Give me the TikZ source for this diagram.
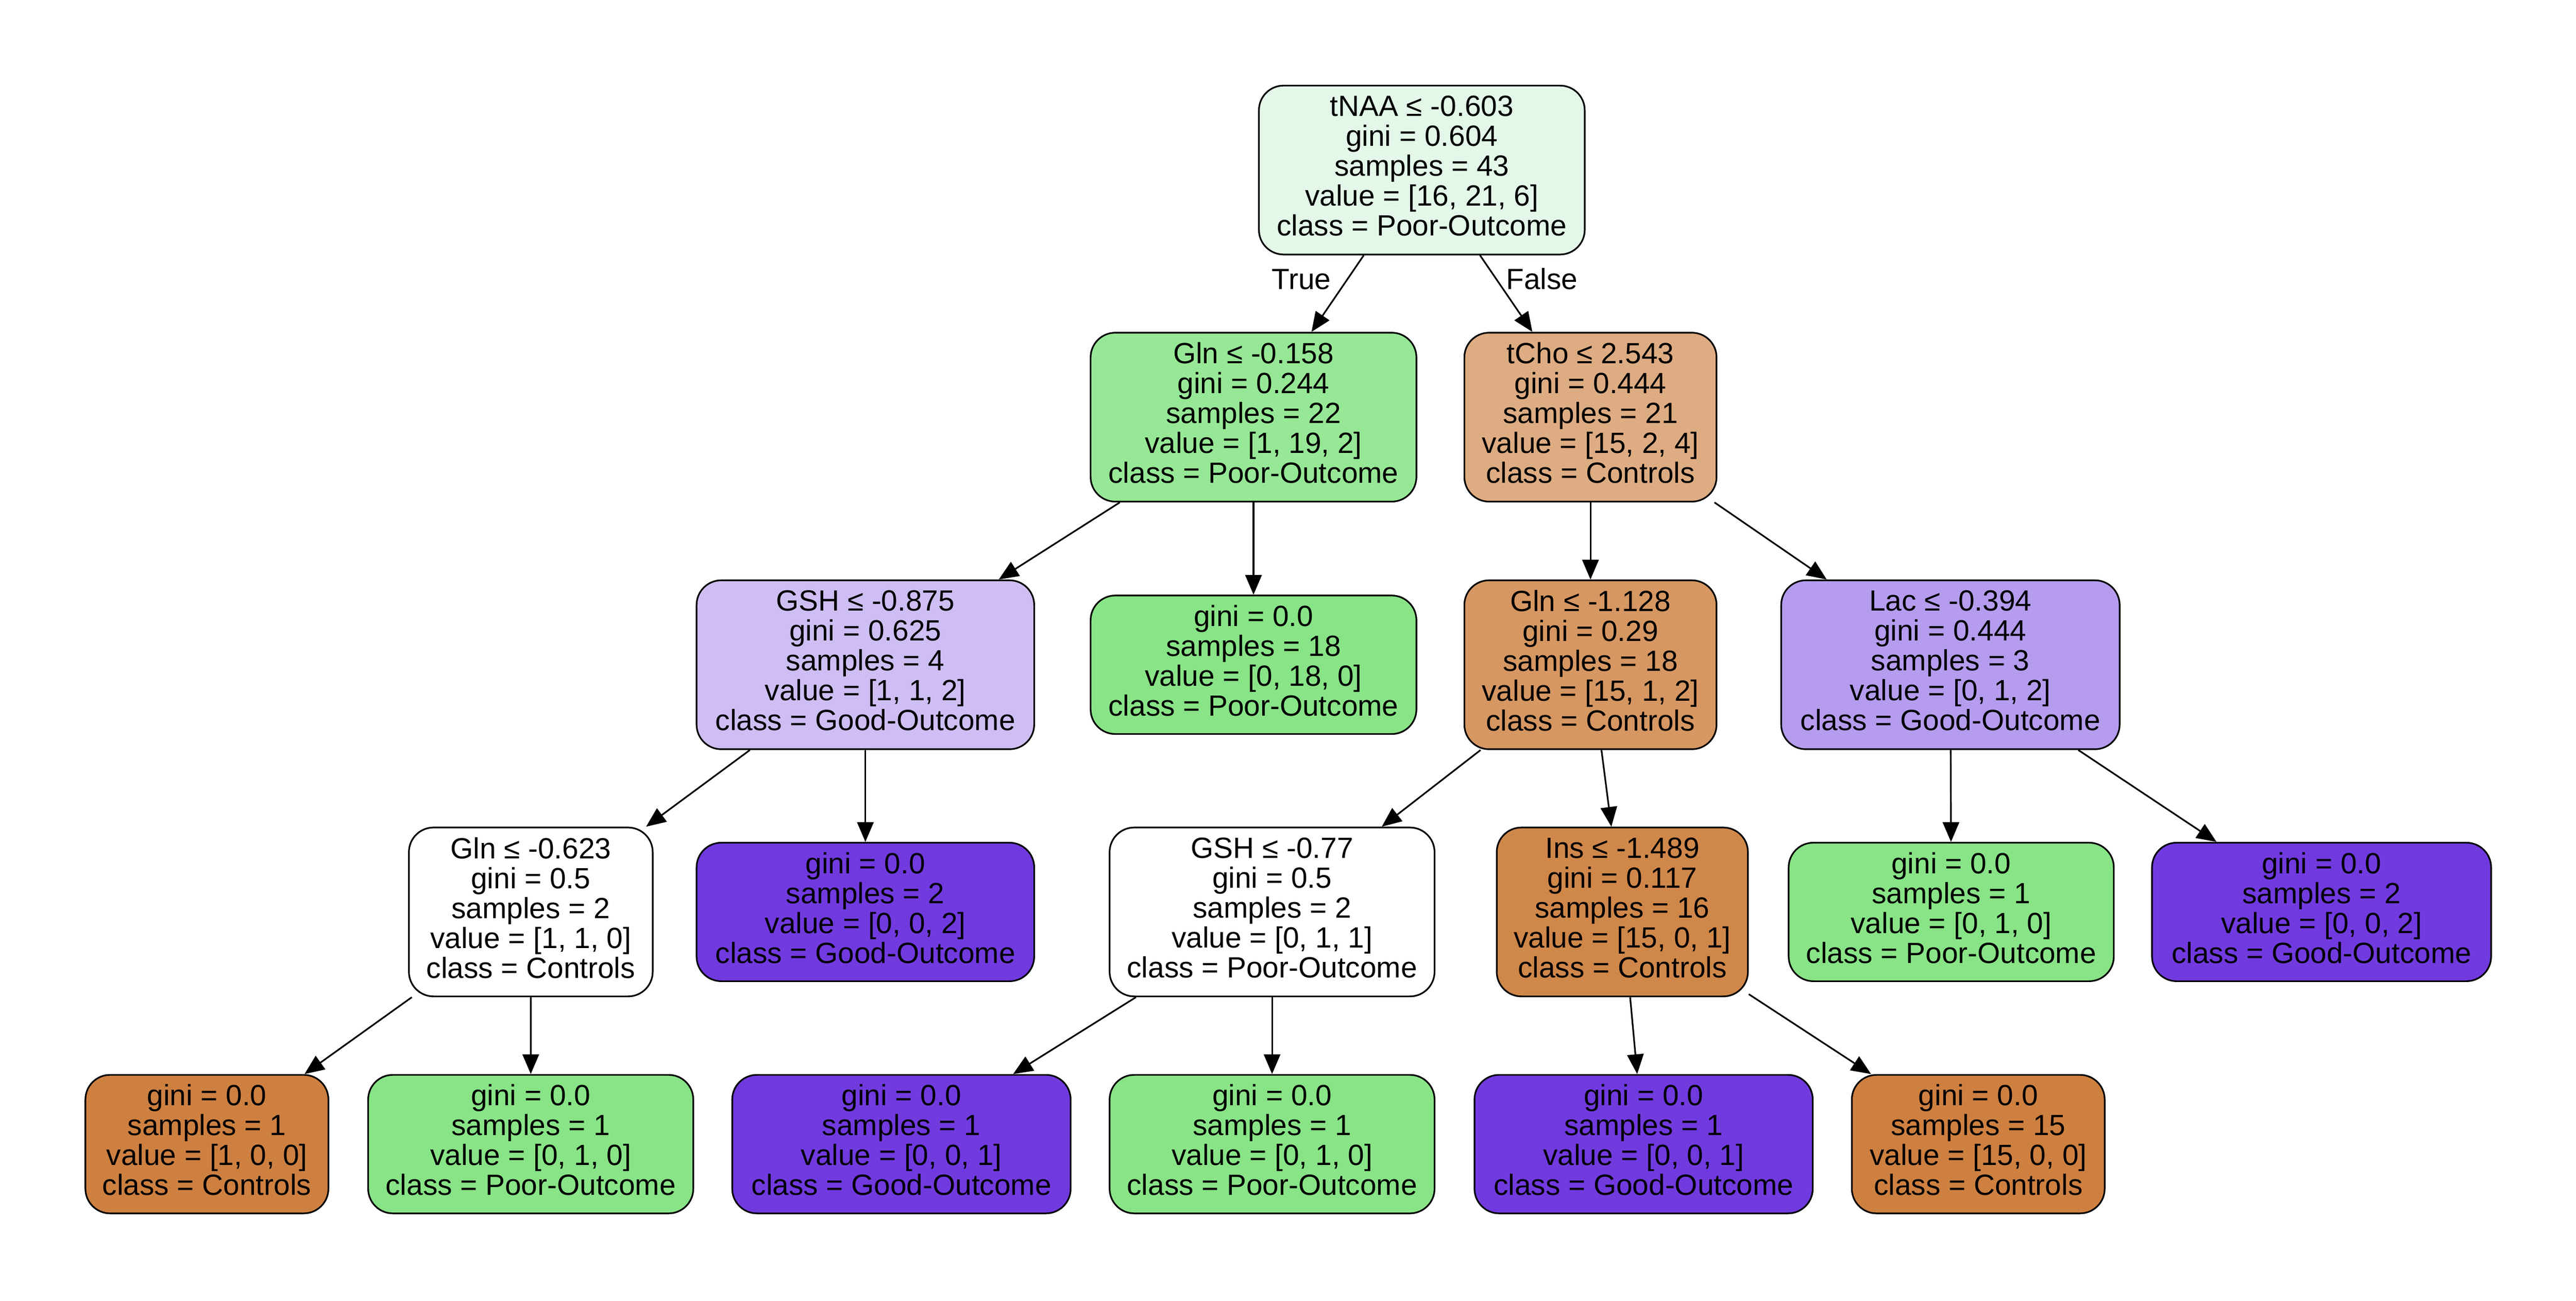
\documentclass[tikz,border=0pt]{standalone}
\usepackage{fontspec}
\setmainfont{Liberation Sans}
\usetikzlibrary{arrows.meta}
\definecolor{cRoot}{RGB}{228,248,234}
\definecolor{cGlnA}{RGB}{151,232,150}
\definecolor{cTcho}{RGB}{222,172,130}
\definecolor{cGshA}{RGB}{206,190,243}
\definecolor{cGlnB}{RGB}{214,151,98}
\definecolor{cLac}{RGB}{181,156,238}
\definecolor{cIns}{RGB}{208,135,74}
\definecolor{cOr}{RGB}{206,128,65}
\definecolor{cGr}{RGB}{137,228,135}
\definecolor{cPu}{RGB}{113,58,223}
\begin{document}
\begin{tikzpicture}[x=1pt,y=-1pt,
  box/.style={draw=black, line width=1pt, rounded corners=15pt, inner sep=0pt,
    align=center, font=\fontsize{17.8}{18.2}\selectfont,
    execute at begin node={\rule{0pt}{13pt}},
    execute at end node={\rule[-5.2pt]{0pt}{0pt}}},
  split/.style={box, minimum height=102.8pt},
  leafbox/.style={box, minimum height=84.3pt},
  conn/.style={line width=1pt, -{Triangle[length=12pt,width=10pt]}},
  elabel/.style={font=\fontsize{17.8}{18.2}\selectfont, inner sep=0pt, anchor=base}]
\useasboundingbox (0,0) rectangle (1568,791.6);
% rank 0
\node[split, fill=cRoot, minimum width=198.3pt] (root) at (865.45,103.5)
  {tNAA ≤ -0.603\\gini = 0.604\\samples = 43\\value = [16, 21, 6]\\class = Poor-Outcome};
% rank 1
\node[split, fill=cGlnA, minimum width=198.3pt] (glnA) at (763.0,253.9)
  {Gln ≤ -0.158\\gini = 0.244\\samples = 22\\value = [1, 19, 2]\\class = Poor-Outcome};
\node[split, fill=cTcho, minimum width=153.5pt] (tcho) at (968.1,253.9)
  {tCho ≤ 2.543\\gini = 0.444\\samples = 21\\value = [15, 2, 4]\\class = Controls};
% rank 2
\node[split, fill=cGshA, minimum width=205.5pt] (gshA) at (526.75,404.6)
  {GSH ≤ -0.875\\gini = 0.625\\samples = 4\\value = [1, 1, 2]\\class = Good-Outcome};
\node[leafbox, fill=cGr, minimum width=198.3pt] (leafE) at (763.0,404.6)
  {gini = 0.0\\samples = 18\\value = [0, 18, 0]\\class = Poor-Outcome};
\node[split, fill=cGlnB, minimum width=153.5pt] (glnB) at (968.1,404.6)
  {Gln ≤ -1.128\\gini = 0.29\\samples = 18\\value = [15, 1, 2]\\class = Controls};
\node[split, fill=cLac, minimum width=206pt] (lac) at (1187.2,404.6)
  {Lac ≤ -0.394\\gini = 0.444\\samples = 3\\value = [0, 1, 2]\\class = Good-Outcome};
% rank 3
\node[split, fill=white, minimum width=148.4pt] (glnC) at (323.1,555.05)
  {Gln ≤ -0.623\\gini = 0.5\\samples = 2\\value = [1, 1, 0]\\class = Controls};
\node[leafbox, fill=cPu, minimum width=205.5pt] (leafF) at (526.75,555.05)
  {gini = 0.0\\samples = 2\\value = [0, 0, 2]\\class = Good-Outcome};
\node[split, fill=white, minimum width=197.8pt] (gshB) at (774.3,555.05)
  {GSH ≤ -0.77\\gini = 0.5\\samples = 2\\value = [0, 1, 1]\\class = Poor-Outcome};
\node[split, fill=cIns, minimum width=152.9pt] (ins) at (987.5,555.05)
  {Ins ≤ -1.489\\gini = 0.117\\samples = 16\\value = [15, 0, 1]\\class = Controls};
\node[leafbox, fill=cGr, minimum width=197.9pt] (leafG) at (1187.7,555.05)
  {gini = 0.0\\samples = 1\\value = [0, 1, 0]\\class = Poor-Outcome};
\node[leafbox, fill=cPu, minimum width=206.4pt] (leafH) at (1413.1,555.05)
  {gini = 0.0\\samples = 2\\value = [0, 0, 2]\\class = Good-Outcome};
% rank 4
\node[leafbox, fill=cOr, minimum width=147.9pt] (l1) at (125.95,696.35)
  {gini = 0.0\\samples = 1\\value = [1, 0, 0]\\class = Controls};
\node[leafbox, fill=cGr, minimum width=197.9pt] (l2) at (323.05,696.35)
  {gini = 0.0\\samples = 1\\value = [0, 1, 0]\\class = Poor-Outcome};
\node[leafbox, fill=cPu, minimum width=206pt] (l3) at (548.7,696.35)
  {gini = 0.0\\samples = 1\\value = [0, 0, 1]\\class = Good-Outcome};
\node[leafbox, fill=cGr, minimum width=197.8pt] (l4) at (774.3,696.35)
  {gini = 0.0\\samples = 1\\value = [0, 1, 0]\\class = Poor-Outcome};
\node[leafbox, fill=cPu, minimum width=205.9pt] (l5) at (1000.45,696.35)
  {gini = 0.0\\samples = 1\\value = [0, 0, 1]\\class = Good-Outcome};
\node[leafbox, fill=cOr, minimum width=153.9pt] (l6) at (1204.15,696.35)
  {gini = 0.0\\samples = 15\\value = [15, 0, 0]\\class = Controls};
% edge labels
\node[elabel] (tlab) at (792.2,176) {True};
\node[elabel] (flab) at (938.6,176) {False};
% connectors
\draw[conn] (root) -- (glnA);
\draw[conn] (root) -- (tcho);
\draw[conn] (glnA) -- (gshA);
\draw[conn] (glnA) -- (leafE);
\draw[conn] (tcho) -- (glnB);
\draw[conn] (tcho) -- (lac);
\draw[conn] (gshA) -- (glnC);
\draw[conn] (gshA) -- (leafF);
\draw[conn] (glnB) -- (gshB);
\draw[conn] (glnB) -- (ins);
\draw[conn] (lac) -- (leafG);
\draw[conn] (lac) -- (leafH);
\draw[conn] (glnC) -- (l1);
\draw[conn] (glnC) -- (l2);
\draw[conn] (gshB) -- (l3);
\draw[conn] (gshB) -- (l4);
\draw[conn] (ins) -- (l5);
\draw[conn] (ins) -- (l6);
\end{tikzpicture}
\end{document}
